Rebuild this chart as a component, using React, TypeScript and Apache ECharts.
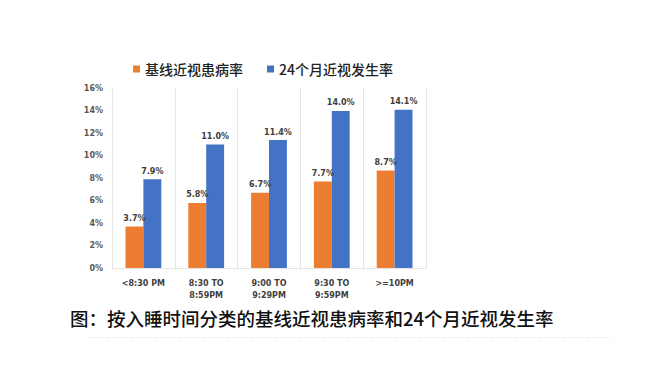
import React, { useEffect, useRef } from "react";
import * as echarts from "echarts";

const categories = ["<8:30 PM", "8:30 TO\n8:59PM", "9:00 TO\n9:29PM", "9:30 TO\n9:59PM", ">=10PM"];
const baselineName = "基线近视患病率";
const incidenceName = "24个月近视发生率";
const baselineValues = [3.7, 5.8, 6.7, 7.7, 8.7];
const incidenceValues = [7.9, 11.0, 11.4, 14.0, 14.1];
const yTicks = { min: 0, max: 16, interval: 2 };
const captionText = "图：按入睡时间分类的基线近视患病率和24个月近视发生率";

export default function App() {
  const ref = useRef<HTMLDivElement>(null);
  useEffect(() => {
    if (!ref.current) return;
    const chart = echarts.init(ref.current, null, { renderer: "svg" });
    const labelStyle = {
      show: true,
      position: "top" as const,
      distance: 4,
      fontSize: 8,
      fontWeight: "bold" as const,
      color: "#404040",
      fontFamily: "DejaVu Sans",
      formatter: (p: any) => p.value.toFixed(1) + "%",
    };
    chart.setOption({
      animation: false,
      backgroundColor: "#ffffff",
      legend: {
        top: 57,
        left: 128,
        itemWidth: 7,
        itemHeight: 7,
        itemGap: 24,
        icon: "rect",
        textStyle: {
          fontSize: 14,
          color: "#222",
          fontFamily: "Noto Sans CJK SC",
          fontWeight: 500,
        },
        data: [baselineName, incidenceName],
      },
      grid: { left: 112, right: 234, top: 88.5, bottom: 115 },
      xAxis: {
        type: "category",
        data: categories,
        axisLine: { show: true, lineStyle: { color: "#e3e3e3" } },
        axisTick: { show: false },
        splitLine: { show: true, lineStyle: { color: "#e6e6e6" } },
        axisLabel: {
          interval: 0,
          margin: 9,
          fontSize: 8,
          lineHeight: 12,
          fontWeight: "bold",
          color: "#404040",
          fontFamily: "DejaVu Sans",
        },
      },
      yAxis: {
        type: "value",
        min: yTicks.min,
        max: yTicks.max,
        interval: yTicks.interval,
        axisLine: { show: false },
        axisTick: { show: false },
        splitLine: { show: false },
        axisLabel: {
          margin: 9,
          fontSize: 8,
          fontWeight: "bold",
          color: "#595959",
          fontFamily: "DejaVu Sans",
          formatter: (v: number) => v + "%",
        },
      },
      series: [
        {
          name: baselineName,
          type: "bar",
          data: baselineValues,
          barGap: "0%",
          barCategoryGap: "43%",
          itemStyle: { color: "#ED7D31" },
          label: labelStyle,
        },
        {
          name: incidenceName,
          type: "bar",
          data: incidenceValues,
          itemStyle: { color: "#4472C4" },
          label: labelStyle,
        },
      ],
      graphic: [
        {
          type: "text",
          left: 70,
          top: 309,
          style: {
            text: captionText,
            fontSize: 18.5,
            fontFamily: "Noto Sans CJK SC",
            fontWeight: 500,
            fill: "#111",
          },
        },
        {
          type: "line",
          shape: { x1: 88, y1: 337.5, x2: 613, y2: 337.5 },
          style: { stroke: "#d8d8d8", lineWidth: 1, lineDash: [1, 2] },
        },
      ],
    });
    return () => chart.dispose();
  }, []);
  return <div ref={ref} style={{ width: 660, height: 383, position: "absolute", left: 0, top: 0 }} />;
}
